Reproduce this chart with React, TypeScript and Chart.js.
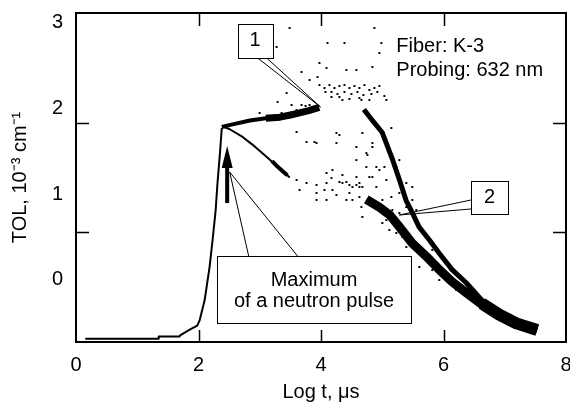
import React, { useEffect, useRef } from 'react';
import { Chart, registerables } from 'chart.js';
Chart.register(...registerables);

const FONT = "'Liberation Sans', Arial, Helvetica, sans-serif";

// ---- axis ticks ----
const X_TICKS = [0, 2, 4, 6, 8];
const X_MARKS = [2, 4, 6];
const Y_LABELS = [0, 1, 2, 3];
const Y_MARKS = [1, 2];

// ---- rise of the signal (thin line) ----
const riseX = [0.15, 1.34, 1.35, 1.69, 1.70, 1.85, 1.98, 2.02, 2.10, 2.18, 2.23, 2.28, 2.31, 2.35, 2.38];
const riseY = [0.03, 0.03, 0.05, 0.05, 0.06, 0.11, 0.15, 0.20, 0.38, 0.68, 0.93, 1.20, 1.45, 1.72, 1.95];

// ---- plateau towards label 1 ----
const plateauAX = [2.38, 2.52, 2.84, 3.10, 3.33];
const plateauAY = [1.96, 1.98, 2.02, 2.04, 2.05];
const plateauBX = [3.10, 3.33, 3.50, 3.65, 3.80, 3.97];
const plateauBY = [2.04, 2.05, 2.07, 2.09, 2.11, 2.14];

// ---- early decay branch (thin) ----
const decayAX = [2.42, 2.51, 2.72, 2.88, 3.11, 3.27, 3.37, 3.49];
const decayAY = [1.96, 1.94, 1.87, 1.80, 1.69, 1.61, 1.56, 1.50];
const decayBX = [3.20, 3.27, 3.37, 3.45];
const decayBY = [1.65, 1.61, 1.56, 1.52];

// ---- lower thick band ----
const bandLowX = [4.74, 4.95, 5.12, 5.28, 5.49, 5.72, 5.93, 6.14, 6.37, 6.63, 6.91, 7.19, 7.53];
const bandLowY = [1.30, 1.23, 1.16, 1.05, 0.90, 0.78, 0.66, 0.55, 0.45, 0.34, 0.25, 0.17, 0.11];

// ---- upper steep band ----
const bandUpX = [4.70, 4.84, 5.00, 5.17, 5.28, 5.39, 5.49, 5.60, 5.77, 5.93, 6.14, 6.37, 6.63, 6.91, 7.19, 7.53];
const bandUpY = [2.12, 2.02, 1.91, 1.66, 1.48, 1.29, 1.18, 1.05, 0.93, 0.81, 0.66, 0.54, 0.38, 0.26, 0.18, 0.11];

// ---- merged tail ----
const tailX = [6.63, 6.91, 7.19, 7.53];
const tailY = [0.35, 0.25, 0.17, 0.11];

// ---- scattered noise points ----
const noiseX = [
  3.487, 4.106, 4.383, 4.872, 4.953, 4.986, 3.682, 3.813, 4.090, 4.415, 4.578, 4.839, 3.943, 3.975, 3.275,
  3.975, 4.057, 4.138, 4.220, 4.301, 4.383, 4.464, 4.546, 4.627, 4.709, 4.790, 4.872, 4.953,
  4.073, 4.171, 4.269, 4.383, 4.497, 4.595, 4.692, 4.823, 4.920, 5.035,
  4.301, 4.464, 4.660, 4.790, 5.067, 4.171, 4.350, 4.627, 3.601, 3.356, 2.998, 3.438, 3.519, 3.291,
  3.764, 3.927, 4.252, 4.301, 4.676, 5.149, 4.741, 4.839, 4.578, 4.904, 5.035, 5.279,
  4.090, 4.350, 4.627, 4.839, 5.279,
  3.601, 3.894, 4.252, 4.578, 4.758, 4.839, 4.741, 4.953, 5.230, 5.067, 5.393, 5.491,
  4.187, 4.171, 4.301, 4.090, 3.927, 4.578, 4.790, 4.676, 4.904,
  3.601, 3.764, 3.650, 3.927, 4.057, 4.187, 4.464, 4.415, 4.513, 4.627, 4.660, 4.676, 4.839,
  5.002, 5.149, 5.279, 5.393, 5.165, 5.002, 5.116, 5.279, 5.491, 5.556, 3.927, 4.090, 4.252,
  4.350, 4.415, 4.464, 4.513, 4.578, 4.627,
  5.067, 5.230, 5.328, 5.556, 5.719, 5.817, 6.045, 6.208, 5.931, 5.393, 5.605, 5.817,
  3.682, 3.748, 3.813,
];
const noiseY = [
  2.863, 2.726, 2.726, 2.863, 2.635, 2.726, 2.462, 2.389, 2.498, 2.480, 2.480, 2.507, 2.416, 2.544, 2.690,
  2.343, 2.316, 2.343, 2.316, 2.334, 2.343, 2.316, 2.334, 2.316, 2.343, 2.298, 2.316, 2.334,
  2.280, 2.280, 2.261, 2.280, 2.261, 2.280, 2.252, 2.261, 2.280, 2.243,
  2.234, 2.216, 2.207, 2.207, 2.207, 2.234, 2.207, 2.225, 2.115, 2.088, 2.088, 2.270, 2.161, 2.188,
  1.824, 1.814, 1.814, 1.887, 1.906, 1.951, 1.723, 1.778, 1.659, 1.596, 1.596, 1.659,
  1.541, 1.523, 1.450, 1.504, 1.459,
  1.915, 1.824, 1.906, 1.778, 1.705, 1.814, 1.596, 1.568, 1.596, 1.477, 1.450, 1.413,
  1.568, 1.495, 1.459, 1.450, 1.432, 1.504, 1.504, 1.413, 1.413,
  1.477, 1.450, 1.386, 1.359, 1.386, 1.386, 1.359, 1.295, 1.295, 1.322, 1.231, 1.140, 1.267,
  1.295, 1.322, 1.359, 1.231, 1.204, 1.085, 1.021, 1.176, 1.295, 1.204, 1.295, 1.295, 1.340,
  1.450, 1.459, 1.432, 1.413, 1.432, 1.413,
  1.112, 0.994, 0.957, 0.839, 0.775, 0.656, 0.629, 0.474, 0.565, 0.866, 0.684, 0.839,
  2.161, 2.152, 2.161,
];

// ---- annotation anchors (data units) ----
const BOX1 = { x0: 2.64, x1: 3.21, y0: 2.59, y1: 2.90, text: ['1'], tx: 2.925, ty: [2.745] };
const CALL1 = { base: [[2.965, 2.59], [3.112, 2.59]], tip: [3.992, 2.143] };
const BOX2 = { x0: 6.452, x1: 7.055, y0: 1.167, y1: 1.468, text: ['2'], tx: 6.754, ty: [1.318] };
const CALL2 = { base: [[6.452, 1.295], [6.452, 1.213]], tip: [5.279, 1.158] };
const BOX3 = { x0: 2.297, x1: 5.474, y0: 0.173, y1: 0.784, text: ['Maximum', 'of a neutron pulse'], tx: 3.886, ty: [0.565, 0.365] };
const CALL3 = { base: [[2.819, 0.784], [3.617, 0.784]], tip: [2.509, 1.550] };
const ARROW = { x: 2.468, yBase: 1.267, yHead: 1.596, yTip: 1.787 };
const INFO = { x: 5.23, lines: ['Fiber: K-3', 'Probing: 632 nm'], ys: [2.699, 2.480] };

const pts = (xs: number[], ys: number[]) => xs.map((x, i) => ({ x, y: ys[i] }));

const lineDs = (xs: number[], ys: number[], w: number) => ({
  data: pts(xs, ys),
  showLine: true,
  borderColor: '#000',
  backgroundColor: '#000',
  borderWidth: w,
  pointRadius: 0,
  borderCapStyle: 'butt',
  borderJoinStyle: 'round',
  xAxisID: 'x',
  yAxisID: 'y',
});

const framePlugin = {
  id: 'frame',
  afterDatasetsDraw(chart: any) {
    const { ctx, chartArea: a, scales } = chart;
    const sx = scales.x, sy = scales.y;
    ctx.save();
    ctx.strokeStyle = '#000';
    ctx.lineWidth = 2;
    ctx.strokeRect(a.left, a.top, a.right - a.left, a.bottom - a.top);
    ctx.lineWidth = 1.5;
    ctx.beginPath();
    X_MARKS.forEach((v) => {
      const px = Math.round(sx.getPixelForValue(v)) + 0.5;
      ctx.moveTo(px, a.bottom); ctx.lineTo(px, a.bottom - 12);
      ctx.moveTo(px, a.top); ctx.lineTo(px, a.top + 13);
    });
    Y_MARKS.forEach((v) => {
      const py = Math.round(sy.getPixelForValue(v)) + 0.5;
      ctx.moveTo(a.left, py); ctx.lineTo(a.left + 13, py);
      ctx.moveTo(a.right, py); ctx.lineTo(a.right - 13, py);
    });
    ctx.stroke();
    ctx.restore();
  },
};

const annotPlugin = {
  id: 'annot',
  afterDraw(chart: any) {
    const { ctx, scales } = chart;
    const X = (v: number) => scales.x.getPixelForValue(v);
    const Y = (v: number) => scales.y.getPixelForValue(v);
    ctx.save();
    ctx.strokeStyle = '#000';
    ctx.fillStyle = '#000';
    ctx.lineWidth = 1;
    // callouts
    [CALL1, CALL2, CALL3].forEach((c) => {
      ctx.beginPath();
      c.base.forEach((b) => {
        ctx.moveTo(X(b[0]), Y(b[1]));
        ctx.lineTo(X(c.tip[0]), Y(c.tip[1]));
      });
      ctx.stroke();
    });
    // boxes
    ctx.font = `20px ${FONT}`;
    ctx.textAlign = 'center';
    ctx.textBaseline = 'middle';
    [BOX1, BOX2, BOX3].forEach((b) => {
      const l = Math.round(X(b.x0)) + 0.5, r = Math.round(X(b.x1)) + 0.5;
      const t = Math.round(Y(b.y1)) + 0.5, btm = Math.round(Y(b.y0)) + 0.5;
      ctx.fillStyle = '#fff';
      ctx.fillRect(l, t, r - l, btm - t);
      ctx.strokeRect(l, t, r - l, btm - t);
      ctx.fillStyle = '#000';
      b.text.forEach((s, i) => ctx.fillText(s, X(b.tx), Y(b.ty[i])));
    });
    // arrow
    const ax = X(ARROW.x);
    ctx.fillRect(ax - 2, Y(ARROW.yHead), 4, Y(ARROW.yBase) - Y(ARROW.yHead));
    ctx.beginPath();
    ctx.moveTo(ax, Y(ARROW.yTip));
    ctx.lineTo(ax - 5.5, Y(ARROW.yHead) + 1);
    ctx.lineTo(ax + 5.5, Y(ARROW.yHead) + 1);
    ctx.closePath();
    ctx.fill();
    // info text
    ctx.textAlign = 'left';
    INFO.lines.forEach((s, i) => ctx.fillText(s, X(INFO.x), Y(INFO.ys[i])));
    ctx.restore();
  },
};

export default function App() {
  const ref = useRef<HTMLCanvasElement>(null);
  useEffect(() => {
    const canvas = ref.current;
    if (!canvas) return;
    const chart = new Chart(canvas, {
      type: 'scatter',
      data: {
        datasets: [
          lineDs(riseX, riseY, 2),
          lineDs(plateauAX, plateauAY, 4),
          lineDs(plateauBX, plateauBY, 7),
          lineDs(decayAX, decayAY, 2),
          lineDs(decayBX, decayBY, 4),
          lineDs(bandLowX, bandLowY, 9),
          lineDs(bandUpX, bandUpY, 5),
          lineDs(tailX, tailY, 12),
          {
            data: pts(noiseX, noiseY),
            showLine: false,
            pointStyle: 'rect',
            pointRadius: 1.4,
            borderWidth: 0,
            backgroundColor: '#000',
            xAxisID: 'x',
            yAxisID: 'y',
          },
        ] as any,
      },
      options: {
        responsive: false,
        animation: false,
        devicePixelRatio: 1,
        layout: { padding: { top: 13, right: 3, left: 0, bottom: 0 } },
        plugins: { legend: { display: false }, tooltip: { enabled: false } },
        scales: {
          x: {
            type: 'linear',
            position: 'bottom',
            min: 0,
            max: 8,
            grid: { display: false, drawTicks: false },
            border: { display: false },
            afterBuildTicks: (s: any) => { s.ticks = X_TICKS.map((v) => ({ value: v })); },
            ticks: { color: '#000', font: { size: 20, family: FONT }, padding: 11, maxRotation: 0, autoSkip: false },
            title: { display: true, text: 'Log t, μs', color: '#000', font: { size: 20, family: FONT }, padding: { top: 0, bottom: 0 } },
            afterFit: (s: any) => { s.height = 62; s.paddingLeft = 0; s.paddingRight = 0; },
          },
          y: { type: 'linear', display: false, min: 0, max: 3 },
          yl: {
            type: 'linear',
            position: 'left',
            min: -0.723,
            max: 3.112,
            grid: { display: false, drawTicks: false },
            border: { display: false },
            afterBuildTicks: (s: any) => { s.ticks = Y_LABELS.map((v) => ({ value: v })); },
            ticks: { color: '#000', font: { size: 20, family: FONT }, padding: 13 },
            title: { display: true, text: 'TOL, 10⁻³ cm⁻¹', color: '#000', font: { size: 20, family: FONT }, padding: { top: 8, bottom: 0 } },
            afterFit: (s: any) => { s.width = 76; s.paddingTop = 0; s.paddingBottom = 0; },
          },
        },
      } as any,
      plugins: [framePlugin, annotPlugin],
    });
    return () => chart.destroy();
  }, []);
  return (
    <div style={{ position: 'absolute', left: 0, top: 0, width: 570, height: 404, background: '#fff' }}>
      <canvas ref={ref} width={570} height={404} style={{ display: 'block' }} />
    </div>
  );
}
